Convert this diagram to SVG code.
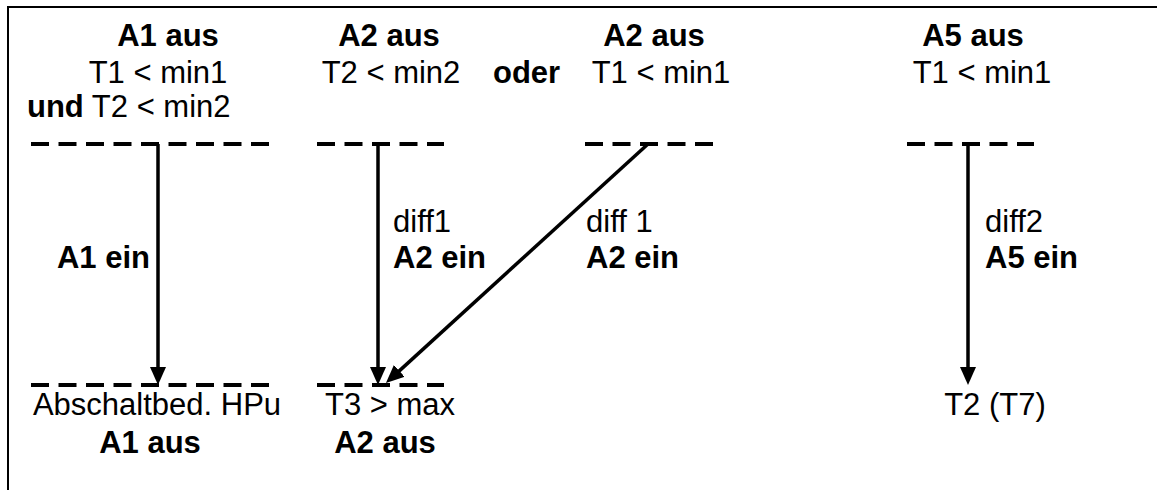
<svg xmlns="http://www.w3.org/2000/svg" width="1157" height="490" viewBox="0 0 1157 490">
<style>
text{font-family:"Liberation Sans",Arial,sans-serif;font-size:31px;fill:#000}
.b{font-weight:bold}
.m{text-anchor:middle}
.dash{stroke:#000;stroke-width:4;stroke-dasharray:18 9.5;fill:none}
.arr{stroke:#000;stroke-width:3.5;fill:none;marker-end:url(#ah)}
.frame{stroke:#000;stroke-width:2;fill:none}
</style>
<defs>
<marker id="ah" markerUnits="userSpaceOnUse" markerWidth="18" markerHeight="16" refX="4" refY="8" orient="auto">
<path d="M0,0 L18,8 L0,16 z" fill="#000"/>
</marker>
</defs>
<rect width="1157" height="490" fill="#fff"/>
<path class="frame" d="M1157,7 H8 V490"/>

<g id="node-a1-top">
<text class="b m" x="168" y="46">A1 aus</text>
<text class="m" x="158" y="83">T1 &lt; min1</text>
<text x="27" y="117"><tspan class="b">und</tspan> T2 &lt; min2</text>
<line class="dash" x1="31" y1="144" x2="270" y2="144"/>
</g>
<g id="node-a2-top">
<text class="b m" x="389" y="46">A2 aus</text>
<text class="m" x="391" y="83">T2 &lt; min2</text>
<line class="dash" x1="317" y1="144" x2="444" y2="144"/>
</g>
<g id="node-oder">
<text class="b" x="493" y="83">oder</text>
</g>
<g id="node-a2b-top">
<text class="b m" x="654" y="46">A2 aus</text>
<text class="m" x="661" y="83">T1 &lt; min1</text>
<line class="dash" x1="585" y1="144" x2="713" y2="144"/>
</g>
<g id="node-a5-top">
<text class="b m" x="973" y="46">A5 aus</text>
<text class="m" x="982" y="83">T1 &lt; min1</text>
<line class="dash" x1="907" y1="144" x2="1034" y2="144"/>
</g>

<g id="node-a1-bottom">
<line class="dash" x1="31" y1="385" x2="270" y2="385"/>
<text class="m" x="157" y="415">Abschaltbed. HPu</text>
<text class="b m" x="150" y="453">A1 aus</text>
</g>
<g id="node-a2-bottom">
<line class="dash" x1="317" y1="385" x2="444" y2="385"/>
<text class="m" x="390" y="415">T3 &gt; max</text>
<text class="b m" x="385" y="453">A2 aus</text>
</g>
<g id="node-a5-bottom">
<text class="m" x="995" y="415">T2 (T7)</text>
</g>

<g id="connectors">
<line class="arr" x1="158" y1="144" x2="158" y2="371"/>
<line class="arr" x1="378" y1="144" x2="378" y2="371"/>
<line class="arr" x1="648" y1="144" x2="396.3" y2="373.6"/>
<line class="arr" x1="968" y1="144" x2="968" y2="371"/>
</g>

<g id="labels">
<text class="b" x="150" y="268" text-anchor="end">A1 ein</text>
<text x="393" y="232">diff1</text>
<text class="b" x="393" y="268">A2 ein</text>
<text x="586" y="232">diff 1</text>
<text class="b" x="586" y="268">A2 ein</text>
<text x="985" y="232">diff2</text>
<text class="b" x="985" y="268">A5 ein</text>
</g>
</svg>
